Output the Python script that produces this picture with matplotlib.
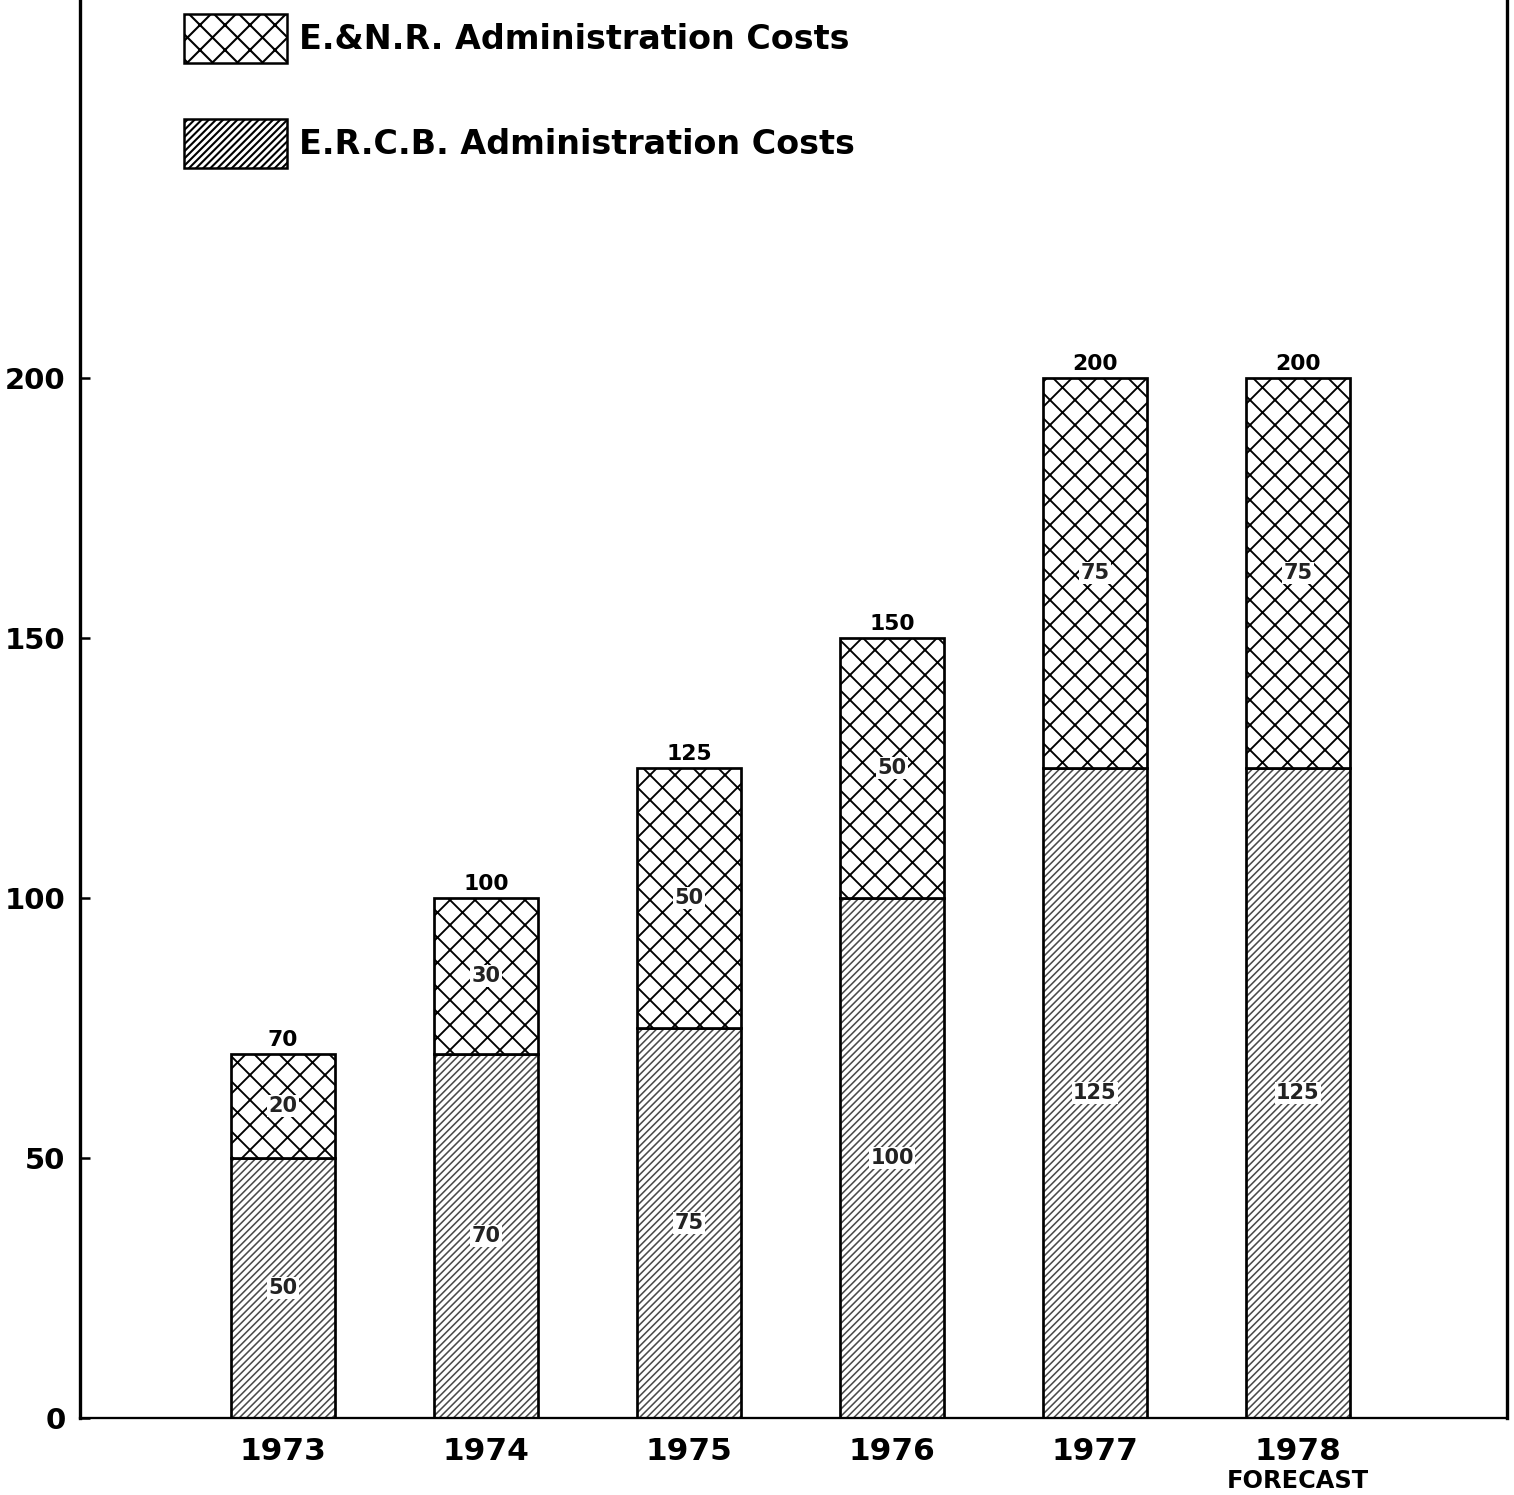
import matplotlib
matplotlib.use("Agg")
import matplotlib.pyplot as plt
from matplotlib.patches import Patch
import numpy as np

years = ["1973", "1974", "1975", "1976", "1977", "1978"]
ercb_costs = [50, 70, 75, 100, 125, 125]
enr_costs = [20, 30, 50, 50, 75, 75]
totals = [70, 100, 125, 150, 200, 200]
yticks = [0, 50, 100, 150, 200]
legend_labels = ["E.&N.R. Administration Costs", "E.R.C.B. Administration Costs"]

DPI = 150
fig = plt.figure(figsize=(1514 / DPI, 1495 / DPI), dpi=DPI)
fig.patch.set_facecolor("white")
ax = fig.add_axes([80 / 1514, 1 - 1418 / 1495, 1427 / 1514, 1418 / 1495])

x = np.arange(len(years))
w = 0.51
HATCH_ERCB = "///////"
HATCH_ENR = "xx"
STRIPE = "#4a4a4a"

def set_hlw(container, lw):
    for p in container:
        if hasattr(p, "set_hatch_linewidth"):
            p.set_hatch_linewidth(lw)

# ERCB: gray stripes, then black outline
with plt.rc_context({"hatch.linewidth": 0.75}):
    b1 = ax.bar(x, ercb_costs, width=w, facecolor="white", edgecolor=STRIPE,
                hatch=HATCH_ERCB, linewidth=0)
set_hlw(b1, 0.75)
ax.bar(x, ercb_costs, width=w, facecolor="none", edgecolor="black", linewidth=1.3)

with plt.rc_context({"hatch.linewidth": 0.9}):
    b2 = ax.bar(x, enr_costs, width=w, bottom=ercb_costs, facecolor="white",
                edgecolor="black", hatch=HATCH_ENR, linewidth=1.3)
set_hlw(b2, 0.9)

lab_kw = dict(fontsize=10, fontweight="bold", color="#222222",
              bbox=dict(facecolor="white", edgecolor="none", pad=0.5))
ax.bar_label(b1, labels=[str(v) for v in ercb_costs], label_type="center", **lab_kw)
ax.bar_label(b2, labels=[str(v) for v in enr_costs], label_type="center", **lab_kw)
ax.bar_label(b2, labels=[str(v) for v in totals], padding=2, fontsize=10.5,
             fontweight="bold", color="black")

ax.set_xlim(-1.0, 6.03)
ax.set_ylim(0, 272.7)
ax.set_yticks(yticks)
ax.set_yticklabels([str(v) for v in yticks], fontsize=14, fontweight="bold")
ax.set_xticks(x)
ax.set_xticklabels(years, fontsize=15, fontweight="bold")
ax.tick_params(axis="y", direction="in", length=5, width=1.2, pad=7)
ax.tick_params(axis="x", length=0, pad=9)
ax.text(x[-1], -9.8, "FORECAST", ha="center", va="top", fontsize=11.5,
        fontweight="bold", transform=ax.transData, clip_on=False)

ax.spines["top"].set_visible(False)
ax.spines["left"].set_linewidth(1.6)
ax.spines["right"].set_linewidth(1.6)
ax.spines["bottom"].set_linewidth(1.1)

with plt.rc_context({"hatch.linewidth": 0.9}):
    handles = [Patch(facecolor="white", edgecolor="black", hatch=HATCH_ENR, linewidth=1.2),
               Patch(facecolor="white", edgecolor="black", hatch=HATCH_ERCB, linewidth=1.2)]
for h, lw in zip(handles, [0.9, 0.6]):
    if hasattr(h, "set_hatch_linewidth"):
        h.set_hatch_linewidth(lw)
ax.legend(handles=handles, labels=legend_labels, loc="upper left",
          bbox_to_anchor=(104 / 1427, 1 - 14 / 1418), frameon=False,
          prop={"size": 16, "weight": "bold"}, borderpad=0, borderaxespad=0,
          handlelength=3.1, handleheight=1.9, handletextpad=0.35,
          labelspacing=1.66)

fig.savefig("out.png", dpi=DPI, facecolor="white")
